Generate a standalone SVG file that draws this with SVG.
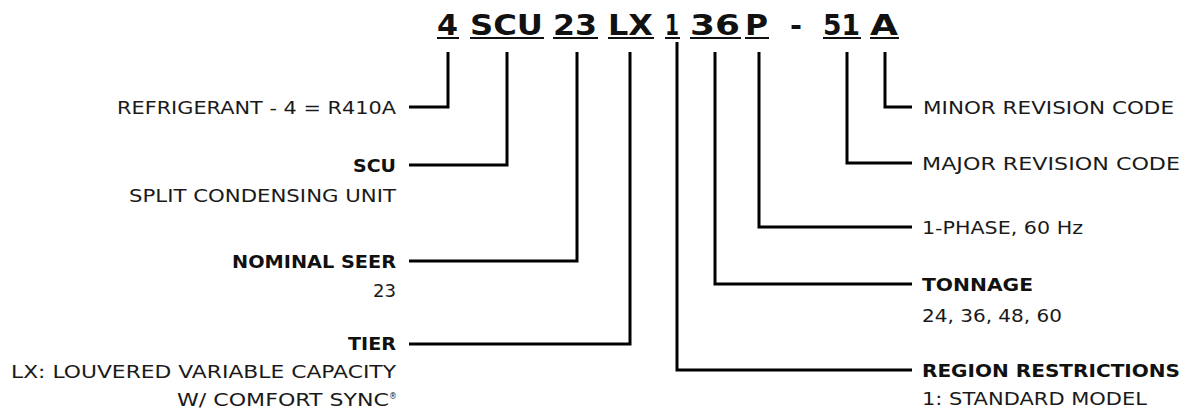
<svg xmlns="http://www.w3.org/2000/svg" width="1184" height="417" viewBox="0 0 1184 417">
<style>
.code{font-family:"DejaVu Sans","Liberation Sans",sans-serif;font-weight:bold;font-size:28px;fill:#111}
.lbl{font-family:"DejaVu Sans","Liberation Sans",sans-serif;font-size:18px;fill:#1a1a1a}
.b{font-weight:bold;fill:#111}
.l{text-anchor:end}
.sup{font-family:"DejaVu Sans","Liberation Sans",sans-serif;font-size:8px;fill:#1a1a1a}
.ul{fill:#111}
.con path{fill:none;stroke:#000;stroke-width:3;stroke-linejoin:miter;stroke-linecap:butt}
</style>
<g id="code">
<text class="code" x="437" y="35" textLength="21" lengthAdjust="spacingAndGlyphs">4</text>
<text class="code" x="470" y="35" textLength="73" lengthAdjust="spacingAndGlyphs">SCU</text>
<text class="code" x="553" y="35" textLength="44" lengthAdjust="spacingAndGlyphs">23</text>
<text class="code" x="608" y="35" textLength="45" lengthAdjust="spacingAndGlyphs">LX</text>
<text class="code" x="665" y="35" textLength="14" lengthAdjust="spacingAndGlyphs">1</text>
<text class="code" x="690" y="35" textLength="50" lengthAdjust="spacingAndGlyphs">36</text>
<text class="code" x="745" y="35" textLength="23" lengthAdjust="spacingAndGlyphs">P</text>
<text class="code" x="790" y="35" textLength="12" lengthAdjust="spacingAndGlyphs">-</text>
<text class="code" x="823" y="35" textLength="37" lengthAdjust="spacingAndGlyphs">51</text>
<text class="code" x="870" y="35" textLength="28" lengthAdjust="spacingAndGlyphs">A</text>
<rect class="ul" x="437" y="37" width="22" height="2"/>
<rect class="ul" x="470" y="37" width="74" height="2"/>
<rect class="ul" x="553" y="37" width="45" height="2"/>
<rect class="ul" x="608" y="37" width="46" height="2"/>
<rect class="ul" x="665" y="37" width="15" height="2"/>
<rect class="ul" x="690" y="37" width="51" height="2"/>
<rect class="ul" x="745" y="37" width="24" height="2"/>
<rect class="ul" x="823" y="37" width="38" height="2"/>
<rect class="ul" x="870" y="37" width="29" height="2"/>
</g>
<g id="connectors" class="con">
<path d="M448,52 V107 H409"/>
<path d="M507,52 V165 H409"/>
<path d="M577,52 V261 H409"/>
<path d="M630,52 V344 H409"/>
<path d="M677,42 V370 H912"/>
<path d="M715,52 V284 H912"/>
<path d="M759,52 V227 H912"/>
<path d="M847,52 V163 H912"/>
<path d="M885,52 V107 H912"/>
</g>
<g id="refrigerant">
<text class="lbl l" x="396" y="114" textLength="279" lengthAdjust="spacingAndGlyphs">REFRIGERANT - 4 = R410A</text>
</g>
<g id="scu">
<text class="lbl l b" x="396" y="172" textLength="43" lengthAdjust="spacingAndGlyphs">SCU</text>
<text class="lbl l" x="396" y="202" textLength="267" lengthAdjust="spacingAndGlyphs">SPLIT CONDENSING UNIT</text>
</g>
<g id="seer">
<text class="lbl l b" x="396" y="268" textLength="164" lengthAdjust="spacingAndGlyphs">NOMINAL SEER</text>
<text class="lbl l" x="396" y="297" textLength="23" lengthAdjust="spacingAndGlyphs">23</text>
</g>
<g id="tier">
<text class="lbl l b" x="396" y="350" textLength="48" lengthAdjust="spacingAndGlyphs">TIER</text>
<text class="lbl l" x="396" y="378" textLength="385" lengthAdjust="spacingAndGlyphs">LX: LOUVERED VARIABLE CAPACITY</text>
<text class="lbl l" x="389" y="406" textLength="212" lengthAdjust="spacingAndGlyphs">W/ COMFORT SYNC</text>
<text class="sup" x="389" y="399">®</text>
</g>
<g id="minor">
<text class="lbl" x="923" y="114" textLength="251" lengthAdjust="spacingAndGlyphs">MINOR REVISION CODE</text>
</g>
<g id="major">
<text class="lbl" x="922" y="170" textLength="258" lengthAdjust="spacingAndGlyphs">MAJOR REVISION CODE</text>
</g>
<g id="phase">
<text class="lbl" x="922" y="234" textLength="161" lengthAdjust="spacingAndGlyphs">1-PHASE, 60 Hz</text>
</g>
<g id="tonnage">
<text class="lbl b" x="922" y="291" textLength="111" lengthAdjust="spacingAndGlyphs">TONNAGE</text>
<text class="lbl" x="922" y="322" textLength="140" lengthAdjust="spacingAndGlyphs">24, 36, 48, 60</text>
</g>
<g id="region">
<text class="lbl b" x="922" y="377" textLength="258" lengthAdjust="spacingAndGlyphs">REGION RESTRICTIONS</text>
<text class="lbl" x="922" y="405" textLength="225" lengthAdjust="spacingAndGlyphs">1: STANDARD MODEL</text>
</g>
</svg>
